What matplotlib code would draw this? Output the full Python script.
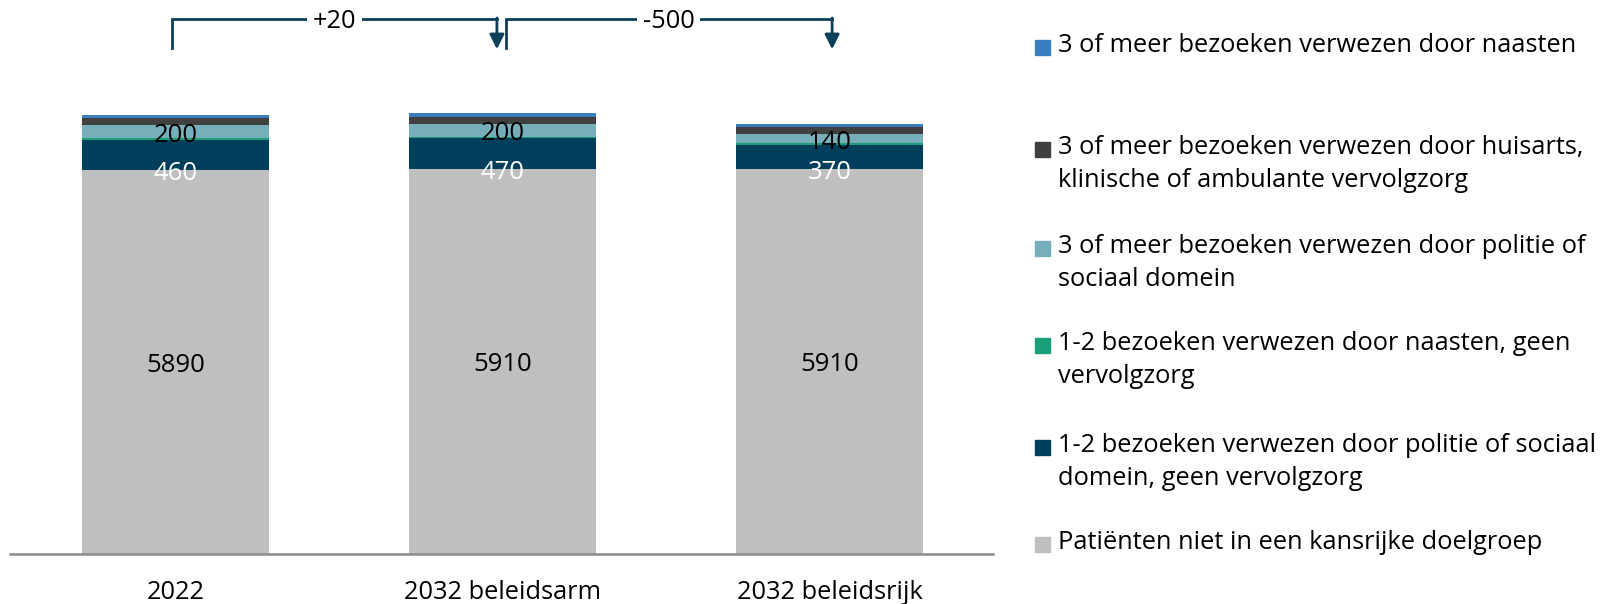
import matplotlib
matplotlib.use('Agg')
from matplotlib import pyplot as plt
from matplotlib.patches import Rectangle
import numpy as np

plt.rcParams['font.family'] = ['Open Sans', 'DejaVu Sans']

categories = ['2022', '2032 beleidsarm', '2032 beleidsrijk']

# stapel van onder naar boven
niet_kansrijk = [5890, 5910, 5910]
kort_politie = [460, 470, 370]
kort_naasten = [30, 25, 25]
meer_politie = [200, 200, 140]
meer_huisarts = [120, 110, 110]
meer_naasten = [45, 50, 40]

series = [
    ('Patiënten niet in een kansrijke doelgroep', niet_kansrijk, '#bfbfbf'),
    ('1-2 bezoeken verwezen door politie of sociaal\ndomein, geen vervolgzorg', kort_politie, '#003f5c'),
    ('1-2 bezoeken verwezen door naasten, geen\nvervolgzorg', kort_naasten, '#1a9e7a'),
    ('3 of meer bezoeken verwezen door politie of\nsociaal domein', meer_politie, '#76afba'),
    ('3 of meer bezoeken verwezen door huisarts,\nklinische of ambulante vervolgzorg', meer_huisarts, '#404040'),
    ('3 of meer bezoeken verwezen door naasten', meer_naasten, '#3a7dc0'),
]

changes = ['+20', '-500']

W, H = 1610, 604
fig = plt.figure(figsize=(W / 100, H / 100), dpi=100)
ax = fig.add_axes([10 / W, 50 / H, 983 / W, 544 / H])

x = np.arange(len(categories))
bottom = np.zeros(len(categories))
for name, vals, col in series:
    ax.bar(x, vals, bottom=bottom, width=0.572, color=col, linewidth=0)
    bottom = bottom + np.array(vals)

# labels
fs_bar = 18.5
fs = 18.3
for i in range(len(categories)):
    ax.text(x[i], niet_kansrijk[i] / 2, str(niet_kansrijk[i]), ha='center',
            va='center_baseline', fontsize=fs_bar, color='black')
    ax.text(x[i], niet_kansrijk[i] - 10, str(kort_politie[i]), ha='center',
            va='center_baseline', fontsize=fs_bar, color='white')
    b = niet_kansrijk[i] + kort_politie[i] + kort_naasten[i]
    ax.text(x[i], b + meer_politie[i] / 2 - 10, str(meer_politie[i]), ha='center',
            va='center_baseline', fontsize=fs_bar, color='black')

ax.set_xlim(-0.506, 2.5)
ax.set_ylim(0, 8351)
for s in ['top', 'right', 'left']:
    ax.spines[s].set_visible(False)
ax.spines['bottom'].set_color('#8c8c8c')
ax.spines['bottom'].set_linewidth(1.8)
ax.set_yticks([])
ax.set_xticks(x)
ax.set_xticklabels(categories, fontsize=fs)
ax.tick_params(axis='x', length=0, pad=19)

# brackets with change
line_col = '#0b3f5a'
y_top = 8213
y_low = 7768
pairs = [(x[0] - 0.01, x[1] - 0.017), (x[1] + 0.01, x[2] + 0.008)]
for (x0, x1), lab in zip(pairs, changes):
    ax.plot([x0, x0, x1], [y_low, y_top, y_top], color=line_col, lw=2, clip_on=False,
            solid_joinstyle='miter')
    ax.annotate('', xy=(x1, y_low - 20), xytext=(x1, y_top + 15),
                arrowprops=dict(arrowstyle='-|>', color=line_col, lw=2,
                                mutation_scale=22, shrinkA=0, shrinkB=0),
                annotation_clip=False)
    ax.text((x0 + x1) / 2, y_top, lab, ha='center', va='center_baseline', fontsize=fs,
            color='black', bbox=dict(facecolor='white', edgecolor='none', pad=4))

# legend, built by hand
leg_y = [47, 149, 248, 345, 447, 544]
for (name, vals, col), yy in zip(series[::-1], leg_y):
    fig.patches.append(Rectangle((1035 / W, 1 - (yy + 8) / H), 15 / W, 15 / H,
                                 transform=fig.transFigure, color=col, figure=fig))
    fig.text(1058 / W, 1 - (yy - 14) / H, name, ha='left', va='top', fontsize=fs,
             color='black', linespacing=1.42)

fig.savefig('out.png', dpi=100)
